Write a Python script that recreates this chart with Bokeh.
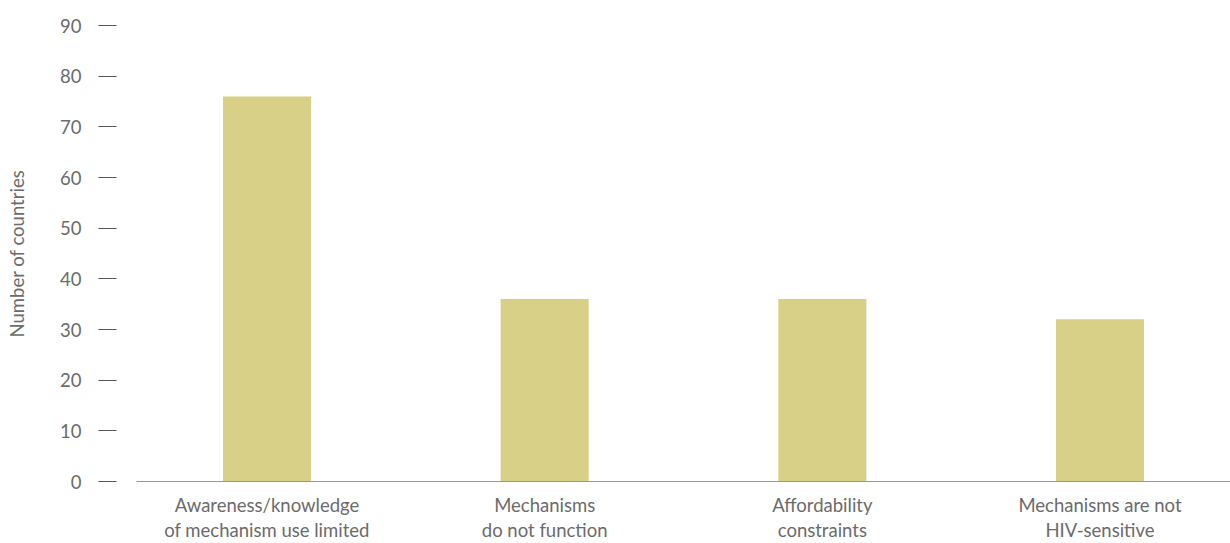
from bokeh.plotting import figure
from bokeh.models import FactorRange, Range1d, FixedTicker
from bokeh.embed import file_html
from bokeh.resources import INLINE

categories = [
    "Awareness/knowledge\nof mechanism use limited",
    "Mechanisms\ndo not function",
    "Affordability\nconstraints",
    "Mechanisms are not\nHIV-sensitive",
]
values = [76, 36, 36, 32]
y_ticks = [0, 10, 20, 30, 40, 50, 60, 70, 80, 90]

FONT = "Lato"
GREY = "#6b6b6b"

p = figure(
    x_range=FactorRange(factors=categories, range_padding=-0.03, range_padding_units="absolute"),
    y_range=Range1d(0, 90),
    width=1230, height=543,
    output_backend="svg", toolbar_location=None,
    min_border_left=136, min_border_right=0, min_border_top=25, min_border_bottom=40,
)

p.vbar(x=categories, top=values, width=0.317, color="#d8d087", line_color=None)

p.outline_line_color = None
p.xgrid.grid_line_color = None
p.ygrid.grid_line_color = None
p.background_fill_color = "white"
p.border_fill_color = "white"

# y axis
ya = p.yaxis[0]
ya.ticker = FixedTicker(ticks=y_ticks)
ya.axis_line_color = None
ya.minor_tick_line_color = None
ya.major_tick_in = -20
ya.major_tick_out = 38
ya.major_tick_line_color = "#555555"
ya.major_tick_line_width = 1
ya.major_label_standoff = 17
ya.major_label_text_font = FONT
ya.major_label_text_font_size = "18.5px"
ya.major_label_text_color = GREY
ya.axis_label = "Number of countries"
ya.axis_label_text_font = FONT
ya.axis_label_text_font_size = "18.5px"
ya.axis_label_text_font_style = "normal"
ya.axis_label_text_color = GREY
ya.axis_label_standoff = 29

# x axis
xa = p.xaxis[0]
xa.axis_line_color = "#999999"
xa.axis_line_width = 1
xa.major_tick_line_color = None
xa.minor_tick_line_color = None
xa.major_label_standoff = 6
xa.major_label_text_font = FONT
xa.major_label_text_font_size = "18.5px"
xa.major_label_text_color = GREY
xa.major_label_text_line_height = 1.15

open("out.html", "w").write(file_html(p, INLINE))
